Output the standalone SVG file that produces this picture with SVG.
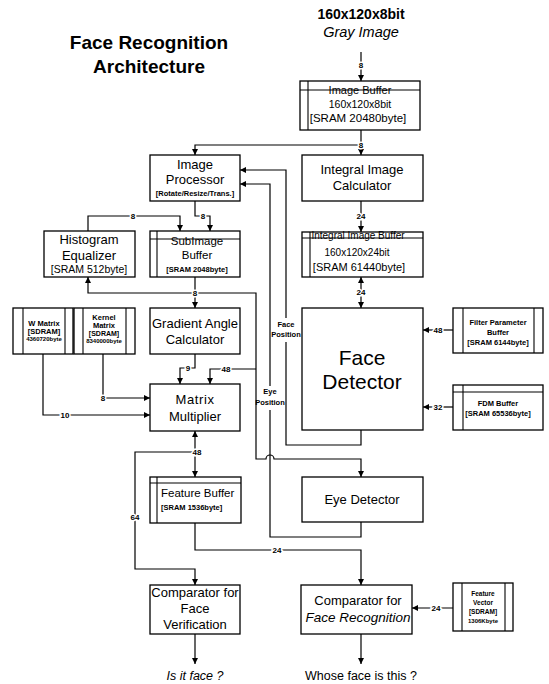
<svg xmlns="http://www.w3.org/2000/svg" width="549" height="684" viewBox="0 0 549 684">
<style>
.box{fill:#fff;stroke:#000;stroke-width:1.3}
.in{fill:none;stroke:#000;stroke-width:1.1}
.ln{fill:none;stroke:#000;stroke-width:1.2}
text{font-family:"Liberation Sans",Arial,sans-serif;fill:#000;text-anchor:middle}
.m{font-size:13px}
.lbl{font-size:8px;font-weight:bold;paint-order:stroke;stroke:#fff;stroke-width:3px}
.sm{font-size:7.5px;font-weight:bold}
.tn{font-size:6.5px;font-weight:bold}
</style>
<defs>
<marker id="ah" viewBox="0 0 10 10" refX="10" refY="5" markerUnits="userSpaceOnUse" markerWidth="7" markerHeight="6" orient="auto-start-reverse"><path d="M0,0 L10,5 L0,10 z" fill="#000"/></marker>
</defs>
<rect width="549" height="684" fill="#fff"/>

<g id="title">
<text x="149" y="49" style="font-size:19px;font-weight:bold">Face Recognition</text>
<text x="149" y="73" style="font-size:19px;font-weight:bold">Architecture</text>
</g>
<g id="input">
<text x="361" y="19" style="font-size:14px;font-weight:bold">160x120x8bit</text>
<text x="361" y="37" style="font-size:14.5px;font-style:italic">Gray Image</text>
</g>

<g id="connectors">
<path class="ln" d="M361,52 V81" marker-end="url(#ah)"/>
<text class="lbl" x="361" y="68">8</text>
<path class="ln" d="M361,130 V155" marker-end="url(#ah)"/>
<path class="ln" d="M361,145 H195 V155" marker-end="url(#ah)"/>
<text class="lbl" x="361" y="148">8</text>
<path class="ln" d="M195,201 V216 H210 V231" marker-end="url(#ah)"/>
<text class="lbl" x="203" y="219">8</text>
<path class="ln" d="M88,231 V216 H180 V231" marker-end="url(#ah)"/>
<text class="lbl" x="133" y="219">8</text>
<path class="ln" d="M195,277 V293 H88 V277" marker-end="url(#ah)"/>
<path class="ln" d="M195,293 V308" marker-end="url(#ah)"/>
<path class="ln" d="M195,293 H256 V459 H266 a4,4 0 0 1 8,0 H361 V477" marker-end="url(#ah)"/>
<text class="lbl" x="195" y="296">8</text>
<path class="ln" d="M361,201 V232" marker-end="url(#ah)"/>
<text class="lbl" x="361" y="219">24</text>
<path class="ln" d="M361,277 V308" marker-start="url(#ah)" marker-end="url(#ah)"/>
<text class="lbl" x="361" y="295">24</text>
<path class="ln" d="M195,354 V368 H180 V384" marker-end="url(#ah)"/>
<text class="lbl" x="188" y="371">9</text>
<path class="ln" d="M256,369 H210 V384" marker-end="url(#ah)"/>
<text class="lbl" x="226" y="372">48</text>
<path class="ln" d="M103,354 V398 H150" marker-end="url(#ah)"/>
<text class="lbl" x="103" y="401">8</text>
<path class="ln" d="M43,354 V415 H150" marker-end="url(#ah)"/>
<text class="lbl" x="65" y="418">10</text>
<path class="ln" d="M453,330 H423" marker-end="url(#ah)"/>
<text class="lbl" x="438" y="333">48</text>
<path class="ln" d="M453,407 H423" marker-end="url(#ah)"/>
<text class="lbl" x="438" y="410">32</text>
<path class="ln" d="M286,342 V445 H361 V430"/>
<path class="ln" d="M286,318 V170 H240" marker-end="url(#ah)"/>
<text class="sm" x="286" y="327">Face</text>
<text class="sm" x="286" y="337">Position</text>
<path class="ln" d="M270,410 V537 H361 V522"/>
<path class="ln" d="M270,386 V184 H240" marker-end="url(#ah)"/>
<text class="sm" x="270" y="394">Eye</text>
<text class="sm" x="270" y="405">Position</text>
<path class="ln" d="M195,431 V477" marker-start="url(#ah)" marker-end="url(#ah)"/>
<path class="ln" d="M195,452 H135 V569 H195 V585" marker-end="url(#ah)"/>
<text class="lbl" x="197" y="455">48</text>
<text class="lbl" x="135" y="520">64</text>
<path class="ln" d="M195,523 V550 H361 V585" marker-end="url(#ah)"/>
<text class="lbl" x="277" y="553">24</text>
<path class="ln" d="M453,608 H412" marker-end="url(#ah)"/>
<text class="lbl" x="436" y="611">24</text>
<path class="ln" d="M195,634 V664" marker-end="url(#ah)"/>
<path class="ln" d="M361,634 V664" marker-end="url(#ah)"/>
</g>

<g id="image-buffer">
<rect class="box" x="300" y="81" width="120" height="49"/>
<line class="in" x1="308" y1="81" x2="308" y2="130"/>
<text x="360" y="94" style="font-size:11px">Image Buffer</text>
<line class="in" x1="300" y1="90" x2="420" y2="90"/>
<text x="360" y="108" style="font-size:10.5px">160x120x8bit</text>
<text x="358" y="122" style="font-size:11.5px">[SRAM 20480byte]</text>
</g>

<g id="image-processor">
<rect class="box" x="150" y="155" width="90" height="46"/>
<text class="m" x="195" y="169">Image</text>
<text class="m" x="195" y="184">Processor</text>
<text x="195" y="196" style="font-size:7.5px;font-weight:bold">[Rotate/Resize/Trans.]</text>
</g>

<g id="integral-image-calculator">
<rect class="box" x="302" y="155" width="121" height="46"/>
<text class="m" x="362" y="174">Integral Image</text>
<text class="m" x="362" y="190">Calculator</text>
</g>

<g id="histogram-equalizer">
<rect class="box" x="44" y="231" width="91" height="46"/>
<text class="m" x="89" y="244">Histogram</text>
<text class="m" x="89" y="260">Equalizer</text>
<text x="89" y="273" style="font-size:10.5px">[SRAM 512byte]</text>
</g>

<g id="subimage-buffer">
<rect class="box" x="150" y="231" width="90" height="46"/>
<line class="in" x1="157" y1="231" x2="157" y2="277"/>
<text x="197" y="245" style="font-size:11.5px">SubImage</text>
<line class="in" x1="150" y1="239" x2="240" y2="239"/>
<text x="197" y="259" style="font-size:11.5px">Buffer</text>
<text x="197" y="272" style="font-size:7.5px;font-weight:bold">[SRAM 2048byte]</text>
</g>

<g id="integral-image-buffer">
<rect class="box" x="302" y="232" width="121" height="45"/>
<line class="in" x1="310" y1="232" x2="310" y2="277"/>
<text x="358" y="239" style="font-size:10px">Integral Image Buffer</text>
<line class="in" x1="302" y1="238" x2="423" y2="238"/>
<text x="357" y="256" style="font-size:10px">160x120x24bit</text>
<text x="359" y="271" style="font-size:11px">[SRAM 61440byte]</text>
</g>

<g id="w-matrix">
<rect class="box" x="13" y="308" width="60" height="46"/>
<line class="in" x1="23" y1="308" x2="23" y2="354"/>
<line class="in" x1="65" y1="308" x2="65" y2="354"/>
<text class="tn" x="44" y="326" style="font-size:7.5px">W Matrix</text>
<text class="tn" x="44" y="334" style="font-size:7.5px">[SDRAM]</text>
<text class="tn" x="44" y="341" style="font-size:6px">4360720byte</text>
</g>

<g id="kernel-matrix">
<rect class="box" x="74" y="308" width="61" height="46"/>
<line class="in" x1="83" y1="308" x2="83" y2="354"/>
<line class="in" x1="126" y1="308" x2="126" y2="354"/>
<text class="tn" x="104" y="320" style="font-size:7.5px">Kernel</text>
<text class="tn" x="104" y="328" style="font-size:7.5px">Matrix</text>
<text class="tn" x="104" y="336" style="font-size:7px">[SDRAM]</text>
<text class="tn" x="104" y="343" style="font-size:6px">8340000byte</text>
</g>

<g id="gradient-angle-calculator">
<rect class="box" x="150" y="308" width="90" height="46"/>
<text class="m" x="195" y="328">Gradient Angle</text>
<text class="m" x="195" y="344">Calculator</text>
</g>

<g id="face-detector">
<rect class="box" x="302" y="308" width="121" height="122"/>
<text x="362" y="365" style="font-size:21px">Face</text>
<text x="362" y="389" style="font-size:21px">Detector</text>
</g>

<g id="filter-parameter-buffer">
<rect class="box" x="453" y="308" width="90" height="45"/>
<line class="in" x1="463" y1="308" x2="463" y2="353"/>
<line class="in" x1="534" y1="308" x2="534" y2="353"/>
<text class="sm" x="498" y="325">Filter Parameter</text>
<text class="sm" x="498" y="335">Buffer</text>
<text class="sm" x="498" y="345">[SRAM 6144byte]</text>
</g>

<g id="fdm-buffer">
<rect class="box" x="453" y="385" width="90" height="45"/>
<line class="in" x1="463" y1="385" x2="463" y2="430"/>
<line class="in" x1="453" y1="392" x2="543" y2="392"/>
<text class="sm" x="498" y="406">FDM Buffer</text>
<text class="sm" x="498" y="416">[SRAM 65536byte]</text>
</g>

<g id="matrix-multiplier">
<rect class="box" x="150" y="384" width="90" height="47"/>
<text class="m" x="195" y="404" style="letter-spacing:0.6px">Matrix</text>
<text class="m" x="195" y="421">Multiplier</text>
</g>

<g id="feature-buffer">
<rect class="box" x="150" y="477" width="91" height="46"/>
<line class="in" x1="157" y1="477" x2="157" y2="523"/>
<line class="in" x1="150" y1="483" x2="241" y2="483"/>
<text x="161" y="497" style="font-size:11.5px;text-anchor:start">Feature Buffer</text>
<text x="161" y="510" style="font-size:7.5px;font-weight:bold;text-anchor:start">[SRAM 1536byte]</text>
</g>

<g id="eye-detector">
<rect class="box" x="302" y="477" width="121" height="45"/>
<text class="m" x="362" y="504">Eye Detector</text>
</g>

<g id="comparator-verification">
<rect class="box" x="150" y="585" width="90" height="49"/>
<text class="m" x="195" y="597">Comparator for</text>
<text class="m" x="195" y="613">Face</text>
<text class="m" x="195" y="629">Verification</text>
</g>

<g id="comparator-recognition">
<rect class="box" x="301" y="585" width="111" height="49"/>
<text class="m" x="358" y="605">Comparator for</text>
<text x="358" y="622" style="font-size:13.5px;font-style:italic">Face Recognition</text>
</g>

<g id="feature-vector">
<rect class="box" x="453" y="583" width="60" height="48"/>
<line class="in" x1="462" y1="583" x2="462" y2="631"/>
<line class="in" x1="505" y1="583" x2="505" y2="631"/>
<text class="tn" x="483" y="596">Feature</text>
<text class="tn" x="483" y="605">Vector</text>
<text class="tn" x="483" y="614">[SDRAM]</text>
<text class="tn" x="483" y="623" style="font-size:6px">1306Kbyte</text>
</g>

<g id="outputs">
<text x="195" y="680" style="font-size:12.5px;font-style:italic">Is it face ?</text>
<text x="361" y="680" style="font-size:12.5px">Whose face is this ?</text>
</g>
</svg>
